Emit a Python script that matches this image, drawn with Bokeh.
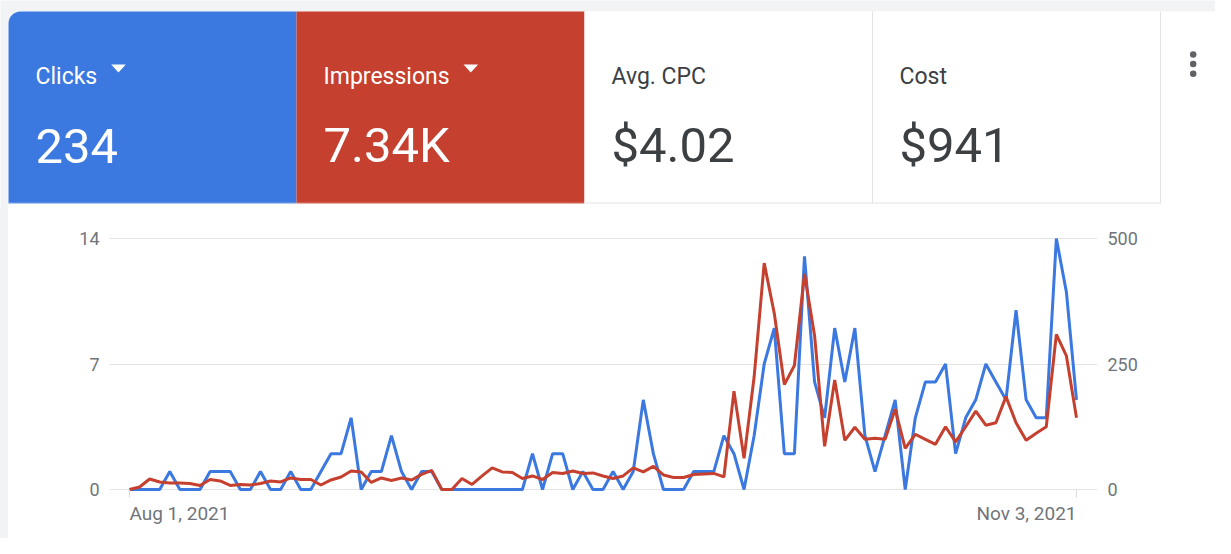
import pandas as pd
from bokeh.plotting import figure
from bokeh.layouts import column, row
from bokeh.models import Range1d, LinearAxis, FixedTicker, ColumnDataSource, Spacer
from bokeh.core.properties import value
from bokeh.embed import file_html
from bokeh.resources import INLINE

# ---------------- data ----------------
dates = pd.date_range("2021-08-01", "2021-11-03", freq="D")
clicks = [0, 0, 0, 0, 1, 0, 0, 0, 1, 1,
          1, 0, 0, 1, 0, 0, 1, 0, 0, 1,
          2, 2, 4, 0, 1, 1, 3, 1, 0, 1,
          1, 0, 0, 0, 0, 0, 0, 0, 0, 0,
          2, 0, 2, 2, 0, 1, 0, 0, 1, 0,
          1, 5, 2, 0, 0, 0, 1, 1, 1, 3,
          2, 0, 3, 7, 9, 2, 2, 13, 6, 4,
          9, 6, 9, 3, 1, 3, 5, 0, 4, 6,
          6, 7, 2, 4, 5, 7, 6, 5, 10, 5,
          4, 4, 14, 11, 5]
impressions = [0, 5, 21, 15, 13, 13, 12, 8, 20, 17,
               8, 10, 9, 12, 17, 15, 23, 20, 20, 9,
               19, 25, 37, 35, 14, 23, 18, 23, 19, 30,
               38, 0, 0, 22, 10, 27, 43, 35, 34, 22,
               27, 20, 34, 32, 37, 32, 33, 27, 22, 27,
               43, 35, 46, 29, 24, 24, 30, 31, 32, 25,
               196, 62, 224, 451, 351, 209, 247, 430, 307, 86,
               218, 98, 124, 100, 102, 100, 160, 82, 110, 100,
               90, 125, 95, 125, 156, 128, 133, 185, 133, 98,
               112, 125, 309, 266, 143]
metric_names = ["Clicks", "Impressions", "Avg. CPC", "Cost"]
metric_values = ["234", "7.34K", "$4.02", "$941"]
left_ticks = [0, 7, 14]
right_ticks = [0, 250, 500]

# ---------------- styling ----------------
FONT = "Roboto"
BLUE = "#3b78e0"
RED = "#c5402f"
PAGE_BG = "#f1f3f4"
DARK = "#3c4043"
AXIS_TXT = "#70757a"
BORDER = "#e3e3e3"
GRID = "#e4e4e4"

W = 1215
HH = 208
CH = 330
CARD_L = 8
CARD_T = 11
TILE_W = 288
TILE_B = 203


def Y(v):
    return HH - v


# ---------------- header (metric tiles) ----------------
hdr = figure(width=W, height=HH, x_range=Range1d(0, W), y_range=Range1d(0, HH),
             x_axis_location=None, y_axis_location=None, toolbar_location=None,
             output_backend="svg", min_border=0)
hdr.frame_align = False
hdr.grid.visible = False
hdr.outline_line_color = None
hdr.background_fill_color = PAGE_BG
hdr.border_fill_color = PAGE_BG

hdr.quad(left=[CARD_L], right=[W + 11], top=[Y(CARD_T)], bottom=[-5], fill_color="white",
         line_color=None, border_radius=(12, 12, 0, 0))

tile_fill = [BLUE, RED, "white", "white"]
tile_txt = ["white", "white", DARK, DARK]
radii = [(12, 0, 0, 0), 0, 0, 0]
for i, name in enumerate(metric_names):
    left = CARD_L + i * TILE_W
    hdr.quad(left=[left], right=[left + TILE_W], top=[Y(CARD_T)], bottom=[Y(TILE_B)],
             fill_color=tile_fill[i], line_color=None, border_radius=radii[i])
    hdr.text(x=[left + 27], y=[Y(75.7)], text=[name], text_font=value(FONT),
             text_font_size="23px", text_color=tile_txt[i],
             text_baseline="alphabetic", text_align="left")
    hdr.text(x=[left + 27], y=[Y(145)], text=[metric_values[i]], text_font=value(FONT),
             text_font_size="49px", text_color=tile_txt[i],
             text_baseline="alphabetic", text_align="left")

# tile borders
x_c = CARD_L + 3 * TILE_W
x_e = CARD_L + 4 * TILE_W
hdr.segment(x0=[x_c, x_e, CARD_L + 2 * TILE_W], y0=[Y(CARD_T), Y(CARD_T), Y(TILE_B - 0.5)],
            x1=[x_c, x_e, x_e], y1=[Y(TILE_B), Y(TILE_B), Y(TILE_B - 0.5)],
            line_color=BORDER, line_width=1)
hdr.segment(x0=[CARD_L], y0=[Y(TILE_B - 0.5)], x1=[CARD_L + 2 * TILE_W], y1=[Y(TILE_B - 0.5)],
            line_color="white", line_alpha=0.35, line_width=1)

# dropdown triangles
tri_left = [110.7, 463]
hdr.patches(xs=[[t, t + 14.6, t + 7.3] for t in tri_left],
            ys=[[Y(64), Y(64), Y(72)] for _ in tri_left],
            fill_color="white", line_color=None)

# three-dot menu
hdr.scatter(x=[1192.7] * 3, y=[Y(54), Y(63.5), Y(73.3)], size=6.5,
            fill_color="#5f6368", line_color=None)

# ---------------- chart ----------------
xs = [(d - dates[0]).days for d in dates]
src = ColumnDataSource(dict(x=xs, clicks=clicks, impr=impressions))

CW = W - CARD_L
px_per_day = 10.074
x0 = -20 / px_per_day
x1 = xs[-1] + 21 / px_per_day
pad = 5 / 17.93
ch = figure(width=CW, height=CH, x_range=Range1d(x0, x1),
            y_range=Range1d(-pad, left_ticks[-1] + pad),
            toolbar_location=None, output_backend="svg",
            min_border_left=101, min_border_right=118,
            min_border_top=25, min_border_bottom=44)
ch.frame_align = False
ch.outline_line_color = None
ch.background_fill_color = "white"
ch.border_fill_color = "white"
ch.xgrid.visible = False
ch.ygrid.grid_line_color = GRID
ch.ygrid.grid_line_width = 1

scale_r = right_ticks[-1] / left_ticks[-1]
ch.extra_y_ranges = {"impr": Range1d(-pad * scale_r, (left_ticks[-1] + pad) * scale_r)}

# left axis
ya = ch.yaxis[0]
ya.ticker = FixedTicker(ticks=left_ticks)
ya.axis_line_color = None
ya.major_tick_in = 0
ya.major_tick_out = 0
ya.minor_tick_line_color = None
ya.major_label_standoff = 10
ya.major_label_text_font = FONT
ya.major_label_text_font_size = "18px"
ya.major_label_text_color = AXIS_TXT

# right axis
ra = LinearAxis(y_range_name="impr", ticker=FixedTicker(ticks=right_ticks))
ra.axis_line_color = None
ra.major_tick_in = 0
ra.major_tick_out = 0
ra.minor_tick_line_color = None
ra.major_label_standoff = 10
ra.major_label_text_font = FONT
ra.major_label_text_font_size = "18px"
ra.major_label_text_color = AXIS_TXT
ch.add_layout(ra, "right")

# bottom axis: tick marks only
xa = ch.xaxis[0]
xa.ticker = FixedTicker(ticks=[xs[0], xs[-1]])
xa.major_label_overrides = {xs[0]: "", xs[-1]: ""}
xa.axis_line_color = None
xa.major_tick_in = 5
xa.major_tick_out = 3
xa.major_tick_line_color = "#dadce0"
xa.minor_tick_line_color = None
xa.major_label_standoff = 0
xa.major_label_text_font_size = "1px"

# bottom axis: date labels aligned to the first/last day
lbl_fs = 19
half_w = 5.26 * lbl_fs / 2 / px_per_day
c0 = xs[0] + half_w
c1 = xs[-1] - half_w
la = LinearAxis(ticker=FixedTicker(ticks=[c0, c1]))
la.major_label_overrides = {c0: dates[0].strftime("%b %-d, %Y"),
                            c1: dates[-1].strftime("%b %-d, %Y")}
la.axis_line_color = None
la.major_tick_in = 0
la.major_tick_out = 0
la.minor_tick_line_color = None
la.major_label_standoff = 4
la.major_label_text_font = FONT
la.major_label_text_font_size = f"{lbl_fs}px"
la.major_label_text_color = AXIS_TXT
ch.add_layout(la, "below")

ch.line(x="x", y="clicks", source=src, line_color=BLUE, line_width=3)
ch.line(x="x", y="impr", source=src, y_range_name="impr", line_color=RED, line_width=3)

gutter = Spacer(width=CARD_L, height=CH, styles={"background-color": PAGE_BG})
layout = column(hdr, row(gutter, ch, spacing=0), spacing=0)
open("out.html", "w").write(file_html(layout, INLINE))
